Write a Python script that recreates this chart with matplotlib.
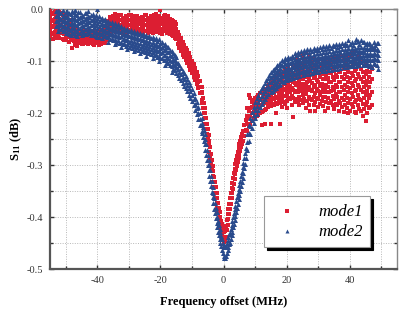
import matplotlib
matplotlib.use('Agg')
import matplotlib.pyplot as plt
from matplotlib.ticker import MultipleLocator

# mode1 (red squares), rows are (x, y values...)
mode1_left = [
	(-55, -0.003, -0.015, -0.028, -0.040, -0.052),
	(-54, -0.008, -0.020, -0.033, -0.045, -0.057),
	(-53, -0.001, -0.012, -0.025, -0.038, -0.050),
	(-52, -0.006, -0.018, -0.030, -0.043, -0.055),
	(-51, -0.010, -0.022, -0.034, -0.046, -0.058),
	(-50, -0.014, -0.026, -0.038, -0.049, -0.060),
	(-49, -0.020, -0.032, -0.043, -0.053, -0.063),
	(-48, -0.030, -0.040, -0.050, -0.060, -0.074),
	(-47, -0.038, -0.046, -0.054, -0.062, -0.068),
	(-46, -0.042, -0.050, -0.057, -0.064),
	(-45, -0.044, -0.051, -0.058, -0.066),
	(-44, -0.040, -0.048, -0.056, -0.063),
	(-43, -0.045, -0.053, -0.060, -0.067),
	(-42, -0.043, -0.050, -0.057, -0.064),
	(-41, -0.046, -0.054, -0.061, -0.068),
	(-40, -0.044, -0.052, -0.059, -0.065),
	(-39, -0.042, -0.050, -0.058, -0.066),
	(-38, -0.040, -0.048, -0.056, -0.063),
	(-37, -0.030, -0.040, -0.050, -0.060),
	(-36, -0.015, -0.025, -0.035, -0.045),
	(-35, -0.012, -0.022, -0.032, -0.042),
	(-34, -0.014, -0.024, -0.034, -0.044),
	(-33, -0.011, -0.021, -0.031, -0.041),
	(-32, -0.016, -0.026, -0.036, -0.045),
	(-31, -0.013, -0.023, -0.033, -0.043),
	(-30, -0.010, -0.020, -0.030, -0.040),
	(-29, -0.015, -0.025, -0.035, -0.044),
	(-28, -0.012, -0.022, -0.032, -0.042),
	(-27, -0.017, -0.027, -0.037, -0.046),
	(-26, -0.014, -0.024, -0.034, -0.043),
	(-25, -0.011, -0.021, -0.031, -0.041),
	(-24, -0.016, -0.026, -0.036, -0.045),
	(-23, -0.013, -0.023, -0.033, -0.043),
	(-22, -0.010, -0.020, -0.030, -0.040),
	(-21, -0.014, -0.024, -0.034, -0.044),
	(-20, -0.002, -0.018, -0.028, -0.038, -0.046),
	(-19, -0.012, -0.022, -0.032, -0.042),
	(-18, -0.015, -0.025, -0.035, -0.045),
	(-17, -0.018, -0.028, -0.038, -0.048),
	(-16, -0.022, -0.032, -0.042, -0.052),
	(-15, -0.028, -0.038, -0.048, -0.058),
]
mode1_left_half = [
	(-54.5, -0.009, -0.022, -0.034, -0.047),
	(-53.5, -0.005, -0.018, -0.031, -0.044, -0.056),
	(-52.5, -0.003, -0.014, -0.027, -0.040, -0.052),
	(-51.5, -0.008, -0.020, -0.032, -0.045),
	(-50.5, -0.012, -0.024, -0.036, -0.048, -0.059),
	(-49.5, -0.017, -0.029, -0.041, -0.052),
	(-48.5, -0.025, -0.036, -0.047, -0.058),
	(-47.5, -0.034, -0.043, -0.052, -0.061),
	(-46.5, -0.039, -0.047, -0.055, -0.063, -0.070),
	(-45.5, -0.046, -0.054, -0.062),
	(-44.5, -0.043, -0.051, -0.060, -0.067),
	(-43.5, -0.041, -0.049, -0.057, -0.064),
	(-42.5, -0.047, -0.055, -0.062),
	(-41.5, -0.042, -0.050, -0.058, -0.066),
	(-40.5, -0.047, -0.055, -0.062),
	(-39.5, -0.046, -0.054, -0.062, -0.069),
	(-38.5, -0.044, -0.052, -0.060),
	(-37.5, -0.036, -0.046, -0.056, -0.064),
	(-36.5, -0.022, -0.032, -0.042, -0.052),
	(-35.5, -0.018, -0.028, -0.038),
	(-34.5, -0.009, -0.019, -0.029, -0.039),
	(-33.5, -0.017, -0.027, -0.037),
	(-32.5, -0.011, -0.021, -0.031, -0.041),
	(-31.5, -0.018, -0.028, -0.038),
	(-30.5, -0.015, -0.025, -0.035, -0.046),
	(-29.5, -0.010, -0.020, -0.030, -0.040),
	(-28.5, -0.017, -0.027, -0.037),
	(-27.5, -0.012, -0.022, -0.032, -0.042),
	(-26.5, -0.019, -0.029, -0.039),
	(-25.5, -0.016, -0.026, -0.036, -0.046),
	(-24.5, -0.011, -0.021, -0.031, -0.041),
	(-23.5, -0.018, -0.028, -0.038),
	(-22.5, -0.015, -0.025, -0.035, -0.045),
	(-21.5, -0.009, -0.019, -0.029, -0.039),
	(-20.5, -0.013, -0.023, -0.033, -0.043),
	(-19.5, -0.017, -0.027, -0.037, -0.047),
	(-18.5, -0.010, -0.020, -0.030, -0.040),
	(-17.5, -0.013, -0.023, -0.033, -0.043),
	(-16.5, -0.020, -0.030, -0.040, -0.050),
	(-15.5, -0.025, -0.035, -0.045, -0.055),
]
mode1_fall = [
	(-14.5, -0.043, -0.055, -0.067), (-14, -0.050, -0.062, -0.074),
	(-13.5, -0.056, -0.068, -0.080), (-13, -0.063, -0.075, -0.087),
	(-12.5, -0.068, -0.080, -0.092), (-12, -0.074, -0.086, -0.098),
	(-11.5, -0.079, -0.091, -0.103), (-11, -0.085, -0.097, -0.109),
	(-10.5, -0.092, -0.104, -0.116), (-10, -0.099, -0.111, -0.123),
	(-9.5, -0.106, -0.118, -0.130), (-9, -0.113, -0.125, -0.137),
	(-8.5, -0.120, -0.132, -0.144), (-8, -0.128, -0.140, -0.152),
	(-7.5, -0.138, -0.150, -0.162), (-7, -0.150, -0.162, -0.174),
]
mode1_dip = [
	(-6.75, -0.160, -0.180), (-6.5, -0.170, -0.190), (-6.25, -0.180, -0.200),
	(-6, -0.190, -0.210), (-5.75, -0.200, -0.220), (-5.5, -0.210, -0.230),
	(-5.25, -0.220, -0.240), (-5, -0.230, -0.250), (-4.75, -0.242, -0.262),
	(-4.5, -0.254, -0.274), (-4.25, -0.266, -0.286), (-4, -0.278, -0.298),
	(-3.75, -0.290, -0.310), (-3.5, -0.301, -0.321), (-3.25, -0.312, -0.332),
	(-3, -0.323, -0.343), (-2.75, -0.333, -0.353), (-2.5, -0.343, -0.363),
	(-2.25, -0.353, -0.373), (-2, -0.363, -0.383), (-1.75, -0.373, -0.393),
	(-1.5, -0.382, -0.402), (-1.25, -0.391, -0.411), (-1, -0.399, -0.419),
	(-0.75, -0.407, -0.427), (-0.5, -0.414, -0.434), (-0.25, -0.420, -0.440),
	(0, -0.425, -0.445), (0.25, -0.428, -0.448), (0.5, -0.427, -0.447),
	(0.75, -0.418, -0.438), (1, -0.405, -0.425), (1.25, -0.395, -0.415),
	(1.5, -0.384, -0.404), (1.75, -0.374, -0.394), (2, -0.364, -0.384),
	(2.25, -0.354, -0.374), (2.5, -0.344, -0.364), (2.75, -0.334, -0.354),
	(3, -0.325, -0.345), (3.25, -0.316, -0.336), (3.5, -0.307, -0.327),
	(3.75, -0.298, -0.318), (4, -0.290, -0.310), (4.25, -0.282, -0.302),
	(4.5, -0.274, -0.294), (4.75, -0.267, -0.287), (5, -0.260, -0.280),
	(5.25, -0.253, -0.273), (5.5, -0.246, -0.266), (5.75, -0.240, -0.260),
	(6, -0.234, -0.254), (6.5, -0.223, -0.243), (7, -0.213, -0.233),
]
mode1_rise = [
	(7.5, -0.190, -0.205, -0.220, -0.235), (8, -0.165, -0.195, -0.210, -0.225),
	(8.5, -0.170, -0.190, -0.205, -0.220), (9, -0.178, -0.188, -0.200, -0.215),
	(9.5, -0.175, -0.185, -0.197, -0.210), (10, -0.170, -0.182, -0.195, -0.208),
	(10.5, -0.168, -0.180, -0.192, -0.205), (11, -0.165, -0.177, -0.190, -0.203),
	(11.5, -0.162, -0.175, -0.188, -0.200), (12, -0.160, -0.172, -0.185, -0.198, -0.222),
	(12.5, -0.158, -0.170, -0.183, -0.196), (13, -0.155, -0.168, -0.180, -0.193, -0.220),
	(13.5, -0.153, -0.166, -0.178, -0.191), (14, -0.150, -0.163, -0.176, -0.189),
	(14.5, -0.145, -0.158, -0.170, -0.183),
]
mode1_tail = [
	(15, -0.140, -0.152, -0.163, -0.174, -0.186, -0.220),
	(16, -0.138, -0.150, -0.161, -0.172, -0.184),
	(17, -0.135, -0.147, -0.158, -0.170, -0.182),
	(18, -0.125, -0.140, -0.155, -0.168, -0.180, -0.220),
	(19, -0.130, -0.143, -0.155, -0.167, -0.178),
	(20, -0.120, -0.135, -0.150, -0.163, -0.176, -0.190),
	(21, -0.118, -0.132, -0.147, -0.160, -0.173),
	(22, -0.108, -0.125, -0.140, -0.155, -0.170, -0.207),
	(23, -0.115, -0.130, -0.145, -0.158, -0.172),
	(24, -0.100, -0.120, -0.137, -0.152, -0.168, -0.185),
	(25, -0.090, -0.118, -0.135, -0.150, -0.165, -0.180),
	(26, -0.084, -0.112, -0.130, -0.148, -0.163, -0.190),
	(27, -0.088, -0.115, -0.133, -0.150, -0.168, -0.185),
	(28, -0.105, -0.125, -0.142, -0.158, -0.175),
	(29, -0.110, -0.128, -0.145, -0.162, -0.178, -0.195),
	(30, -0.100, -0.120, -0.140, -0.157, -0.172, -0.188),
	(31, -0.108, -0.125, -0.143, -0.160, -0.176),
	(32, -0.102, -0.118, -0.135, -0.152, -0.168, -0.195),
	(33, -0.095, -0.115, -0.132, -0.150, -0.170, -0.190),
	(34, -0.105, -0.122, -0.140, -0.158, -0.176),
	(35, -0.098, -0.118, -0.136, -0.155, -0.172, -0.192),
	(36, -0.090, -0.112, -0.130, -0.150, -0.168, -0.185),
	(37, -0.100, -0.120, -0.140, -0.160, -0.180),
	(38, -0.095, -0.115, -0.135, -0.155, -0.175, -0.198),
	(39, -0.088, -0.110, -0.130, -0.150, -0.170, -0.190),
	(40, -0.092, -0.112, -0.132, -0.152, -0.172, -0.195),
	(41, -0.085, -0.108, -0.128, -0.148, -0.168, -0.188),
	(42, -0.095, -0.115, -0.135, -0.155, -0.175, -0.200),
	(43, -0.090, -0.110, -0.130, -0.150, -0.172, -0.192),
	(44, -0.100, -0.120, -0.140, -0.160, -0.182, -0.205),
	(45, -0.105, -0.125, -0.145, -0.165, -0.185, -0.215),
	(46, -0.110, -0.130, -0.150, -0.170, -0.190),
	(47, -0.115, -0.135, -0.160, -0.185),
]
mode1_tail_half = [
	(15.5, -0.134, -0.146, -0.158, -0.170, -0.182),
	(16.5, -0.130, -0.143, -0.156, -0.168, -0.180, -0.200),
	(17.5, -0.122, -0.137, -0.150, -0.163, -0.176),
	(18.5, -0.126, -0.138, -0.150, -0.162, -0.175, -0.188),
	(19.5, -0.115, -0.128, -0.141, -0.154, -0.167, -0.182),
	(20.5, -0.112, -0.127, -0.142, -0.156, -0.170),
	(21.5, -0.105, -0.122, -0.138, -0.152, -0.166, -0.185),
	(22.5, -0.110, -0.126, -0.142, -0.160, -0.178),
	(23.5, -0.098, -0.112, -0.128, -0.143, -0.160, -0.176),
	(24.5, -0.105, -0.126, -0.143, -0.158, -0.174),
	(25.5, -0.095, -0.110, -0.128, -0.143, -0.158, -0.172),
	(26.5, -0.102, -0.122, -0.139, -0.156, -0.176),
	(27.5, -0.098, -0.118, -0.138, -0.156, -0.172, -0.195),
	(28.5, -0.095, -0.115, -0.133, -0.150, -0.168, -0.185),
	(29.5, -0.102, -0.120, -0.137, -0.154, -0.170),
	(30.5, -0.095, -0.112, -0.130, -0.148, -0.165, -0.182),
	(31.5, -0.100, -0.118, -0.135, -0.152, -0.168, -0.186),
	(32.5, -0.094, -0.110, -0.127, -0.145, -0.160, -0.178),
	(33.5, -0.100, -0.122, -0.140, -0.160, -0.180),
	(34.5, -0.092, -0.112, -0.131, -0.149, -0.167, -0.185),
	(35.5, -0.102, -0.126, -0.145, -0.163, -0.182),
	(36.5, -0.098, -0.121, -0.140, -0.159, -0.176, -0.195),
	(37.5, -0.090, -0.110, -0.130, -0.150, -0.170, -0.188),
	(38.5, -0.100, -0.125, -0.145, -0.165, -0.185),
	(39.5, -0.095, -0.120, -0.140, -0.160, -0.180, -0.200),
	(40.5, -0.088, -0.102, -0.122, -0.142, -0.162, -0.182),
	(41.5, -0.098, -0.118, -0.138, -0.158, -0.178, -0.198),
	(42.5, -0.090, -0.105, -0.125, -0.145, -0.165, -0.185),
	(43.5, -0.095, -0.115, -0.135, -0.155, -0.175, -0.195),
	(44.5, -0.110, -0.130, -0.150, -0.170, -0.192),
	(45.5, -0.100, -0.118, -0.138, -0.158, -0.178, -0.200),
	(46.5, -0.120, -0.140, -0.165, -0.188),
]

# mode2 (blue triangles)
mode2_left = [
	(-53, -0.003, -0.013, -0.023, -0.033),
	(-52, -0.006, -0.016, -0.026, -0.036),
	(-51, -0.002, -0.012, -0.022, -0.032, -0.042),
	(-50, -0.005, -0.015, -0.025, -0.035, -0.045),
	(-49, -0.008, -0.018, -0.028, -0.038, -0.048),
	(-48, -0.004, -0.014, -0.024, -0.034, -0.044),
	(-47, -0.002, -0.009, -0.019, -0.029, -0.039, -0.049),
	(-46, -0.006, -0.016, -0.026, -0.036, -0.046),
	(-45, -0.010, -0.020, -0.030, -0.040, -0.050),
	(-44, -0.008, -0.018, -0.028, -0.038, -0.048),
	(-43, -0.003, -0.012, -0.022, -0.032, -0.042),
	(-42, -0.010, -0.020, -0.030, -0.040, -0.050),
	(-41, -0.014, -0.024, -0.034, -0.044),
	(-40, 0.000, -0.016, -0.026, -0.036, -0.046, -0.054),
	(-39, -0.018, -0.028, -0.038, -0.048),
	(-38, -0.021, -0.031, -0.041, -0.051),
	(-37, -0.024, -0.034, -0.044, -0.054),
	(-36, -0.027, -0.037, -0.047, -0.057),
	(-35, -0.030, -0.040, -0.050, -0.060),
	(-34, -0.032, -0.042, -0.052, -0.062),
	(-33, -0.034, -0.044, -0.054, -0.064),
	(-32, -0.037, -0.047, -0.057, -0.067),
	(-31, -0.040, -0.050, -0.060, -0.070),
	(-30, -0.042, -0.052, -0.062, -0.072),
	(-29, -0.044, -0.054, -0.064, -0.074),
	(-28, -0.046, -0.056, -0.066, -0.076),
	(-27, -0.048, -0.058, -0.068, -0.078),
	(-26, -0.050, -0.060, -0.070, -0.080),
	(-25, -0.052, -0.062, -0.072, -0.082),
	(-24, -0.054, -0.064, -0.074, -0.084),
	(-23, -0.056, -0.066, -0.076, -0.086),
	(-22, -0.058, -0.068, -0.078, -0.088),
	(-21, -0.061, -0.071, -0.081, -0.091),
	(-20, -0.064, -0.074, -0.084, -0.094),
	(-19, -0.068, -0.078, -0.088, -0.098),
	(-18, -0.072, -0.082, -0.092, -0.102),
	(-17, -0.078, -0.088, -0.098, -0.108),
	(-16, -0.085, -0.095, -0.105, -0.115),
	(-15, -0.092, -0.102, -0.112, -0.122),
]
mode2_left_half = [
	(-52.5, -0.001, -0.011, -0.021, -0.031, -0.041),
	(-51.5, -0.008, -0.018, -0.028, -0.038),
	(-50.5, -0.010, -0.020, -0.030, -0.040),
	(-49.5, -0.003, -0.013, -0.023, -0.033, -0.043),
	(-48.5, -0.009, -0.019, -0.029, -0.039, -0.050),
	(-47.5, -0.006, -0.016, -0.026, -0.036, -0.046),
	(-46.5, -0.011, -0.021, -0.031, -0.041, -0.051),
	(-45.5, -0.005, -0.015, -0.025, -0.035, -0.045),
	(-44.5, -0.013, -0.023, -0.033, -0.043),
	(-43.5, -0.007, -0.017, -0.027, -0.037, -0.047),
	(-42.5, -0.015, -0.025, -0.035, -0.045),
	(-41.5, -0.009, -0.019, -0.029, -0.039, -0.049),
	(-40.5, -0.011, -0.021, -0.031, -0.041, -0.051),
	(-39.5, -0.013, -0.023, -0.033, -0.043, -0.053),
	(-38.5, -0.016, -0.026, -0.036, -0.046, -0.056),
	(-37.5, -0.019, -0.029, -0.039, -0.049),
	(-36.5, -0.022, -0.032, -0.042, -0.052, -0.062),
	(-35.5, -0.025, -0.035, -0.045, -0.055),
	(-34.5, -0.027, -0.037, -0.047, -0.057, -0.067),
	(-33.5, -0.029, -0.039, -0.049, -0.059),
	(-32.5, -0.032, -0.042, -0.052, -0.062, -0.072),
	(-31.5, -0.035, -0.045, -0.055, -0.065),
	(-30.5, -0.037, -0.047, -0.057, -0.067, -0.077),
	(-29.5, -0.039, -0.049, -0.059, -0.069),
	(-28.5, -0.041, -0.051, -0.061, -0.071, -0.081),
	(-27.5, -0.043, -0.053, -0.063, -0.073),
	(-26.5, -0.045, -0.055, -0.065, -0.075, -0.085),
	(-25.5, -0.047, -0.057, -0.067, -0.077),
	(-24.5, -0.049, -0.059, -0.069, -0.079, -0.089),
	(-23.5, -0.051, -0.061, -0.071, -0.081),
	(-22.5, -0.053, -0.063, -0.073, -0.083, -0.093),
	(-21.5, -0.055, -0.066, -0.076, -0.086),
	(-20.5, -0.058, -0.069, -0.079, -0.089, -0.099),
	(-19.5, -0.062, -0.073, -0.083, -0.093),
	(-18.5, -0.066, -0.077, -0.087, -0.097, -0.107),
	(-17.5, -0.073, -0.083, -0.093, -0.103),
	(-16.5, -0.080, -0.090, -0.100, -0.110, -0.120),
	(-15.5, -0.087, -0.097, -0.107, -0.117),
]
mode2_fall = [
	(-14.5, -0.103, -0.115, -0.127), (-14, -0.108, -0.120, -0.132),
	(-13.5, -0.113, -0.125, -0.137), (-13, -0.118, -0.130, -0.142),
	(-12.5, -0.123, -0.135, -0.147), (-12, -0.128, -0.140, -0.152),
	(-11.5, -0.134, -0.146, -0.158), (-11, -0.140, -0.152, -0.164),
	(-10.5, -0.146, -0.158, -0.170), (-10, -0.153, -0.165, -0.177),
	(-9.5, -0.161, -0.173, -0.185), (-9, -0.170, -0.182, -0.194),
	(-8.5, -0.178, -0.190, -0.202), (-8, -0.188, -0.200, -0.212),
	(-7.5, -0.199, -0.211, -0.223), (-7, -0.210, -0.222, -0.234),
]
mode2_dip = [
	(-6.75, -0.219, -0.239), (-6.5, -0.226, -0.246), (-6.25, -0.233, -0.253),
	(-6, -0.240, -0.260), (-5.75, -0.250, -0.270), (-5.5, -0.260, -0.280),
	(-5.25, -0.270, -0.290), (-5, -0.280, -0.300), (-4.75, -0.290, -0.310),
	(-4.5, -0.300, -0.320), (-4.25, -0.310, -0.330), (-4, -0.320, -0.340),
	(-3.75, -0.331, -0.351), (-3.5, -0.342, -0.362), (-3.25, -0.353, -0.373),
	(-3, -0.364, -0.384), (-2.75, -0.373, -0.393), (-2.5, -0.382, -0.402),
	(-2.25, -0.391, -0.411), (-2, -0.400, -0.420), (-1.75, -0.408, -0.428),
	(-1.5, -0.415, -0.435), (-1.25, -0.422, -0.442), (-1, -0.429, -0.449),
	(-0.75, -0.436, -0.456), (-0.5, -0.443, -0.463), (-0.25, -0.449, -0.469),
	(0, -0.454, -0.474), (0.25, -0.458, -0.478), (0.5, -0.458, -0.478),
	(0.75, -0.455, -0.475), (1, -0.450, -0.470), (1.25, -0.444, -0.464),
	(1.5, -0.438, -0.458), (1.75, -0.432, -0.452), (2, -0.430, -0.450),
	(2.25, -0.423, -0.443), (2.5, -0.415, -0.435), (2.75, -0.408, -0.428),
	(3, -0.400, -0.420), (3.25, -0.393, -0.413), (3.5, -0.385, -0.405),
	(3.75, -0.378, -0.398), (4, -0.370, -0.390), (4.25, -0.362, -0.382),
	(4.5, -0.354, -0.374), (4.75, -0.346, -0.366), (5, -0.338, -0.358),
	(5.25, -0.330, -0.350), (5.5, -0.321, -0.341), (5.75, -0.313, -0.333),
	(6, -0.304, -0.324), (6.25, -0.295, -0.315), (6.5, -0.286, -0.306),
	(6.75, -0.277, -0.297), (7, -0.267, -0.287),
]
mode2_rise = [
	(7.5, -0.241, -0.256, -0.271), (8, -0.223, -0.238, -0.253),
	(8.5, -0.210, -0.225, -0.240), (9, -0.198, -0.213, -0.228),
	(9.5, -0.188, -0.203, -0.218), (10, -0.179, -0.194, -0.209),
	(10.5, -0.171, -0.186, -0.201), (11, -0.164, -0.179, -0.194),
	(11.5, -0.158, -0.173, -0.188), (12, -0.152, -0.167, -0.182),
	(12.5, -0.147, -0.162, -0.177), (13, -0.142, -0.157, -0.172),
	(13.5, -0.137, -0.152, -0.167), (14, -0.133, -0.148, -0.163),
	(14.5, -0.126, -0.140, -0.154),
]
mode2_tail = [
	(15, -0.120, -0.130, -0.140, -0.150, -0.160),
	(16, -0.114, -0.124, -0.134, -0.144, -0.154),
	(17, -0.108, -0.118, -0.128, -0.138, -0.148),
	(18, -0.103, -0.113, -0.123, -0.133, -0.143),
	(19, -0.099, -0.109, -0.119, -0.129, -0.139),
	(20, -0.096, -0.106, -0.116, -0.126, -0.136),
	(21, -0.094, -0.104, -0.114, -0.124, -0.134),
	(22, -0.092, -0.102, -0.112, -0.122, -0.132),
	(23, -0.088, -0.100, -0.110, -0.120, -0.130),
	(24, -0.086, -0.098, -0.108, -0.118, -0.128),
	(25, -0.084, -0.096, -0.106, -0.116, -0.126),
	(26, -0.083, -0.095, -0.105, -0.115, -0.125),
	(27, -0.082, -0.094, -0.104, -0.114, -0.124),
	(28, -0.080, -0.092, -0.102, -0.112, -0.122),
	(29, -0.079, -0.091, -0.101, -0.111, -0.121),
	(30, -0.078, -0.090, -0.100, -0.110, -0.120),
	(31, -0.077, -0.089, -0.099, -0.109, -0.119),
	(32, -0.076, -0.088, -0.098, -0.108, -0.118),
	(33, -0.075, -0.087, -0.097, -0.107, -0.117),
	(34, -0.074, -0.086, -0.096, -0.106, -0.116),
	(35, -0.070, -0.085, -0.095, -0.105, -0.115),
	(36, -0.072, -0.084, -0.094, -0.104, -0.114),
	(37, -0.071, -0.083, -0.093, -0.103, -0.113),
	(38, -0.068, -0.082, -0.092, -0.102, -0.112),
	(39, -0.069, -0.081, -0.091, -0.101, -0.111),
	(40, -0.066, -0.080, -0.090, -0.100, -0.110),
	(41, -0.068, -0.080, -0.090, -0.100, -0.110),
	(42, -0.058, -0.079, -0.089, -0.099, -0.109),
	(43, -0.066, -0.078, -0.088, -0.098, -0.108),
	(44, -0.062, -0.078, -0.088, -0.098, -0.108),
	(45, -0.066, -0.077, -0.087, -0.097, -0.107),
	(46, -0.065, -0.077, -0.087, -0.097, -0.110),
	(47, -0.070, -0.077, -0.087, -0.097, -0.112),
	(48, -0.068, -0.076, -0.086, -0.096, -0.106),
	(49, -0.064, -0.078, -0.088, -0.098, -0.114),
]
mode2_tail_half = [
	(15.5, -0.117, -0.127, -0.137, -0.147, -0.157),
	(16.5, -0.111, -0.121, -0.131, -0.141, -0.151),
	(17.5, -0.105, -0.115, -0.125, -0.135, -0.145),
	(18.5, -0.098, -0.108, -0.118, -0.128, -0.138),
	(19.5, -0.094, -0.104, -0.114, -0.124, -0.134),
	(20.5, -0.091, -0.101, -0.111, -0.121, -0.131),
	(21.5, -0.089, -0.099, -0.109, -0.119, -0.129),
	(22.5, -0.084, -0.095, -0.105, -0.115, -0.125),
	(23.5, -0.082, -0.093, -0.103, -0.113, -0.123),
	(24.5, -0.080, -0.091, -0.101, -0.111, -0.121),
	(25.5, -0.078, -0.090, -0.100, -0.110, -0.120),
	(26.5, -0.077, -0.089, -0.099, -0.109, -0.119),
	(27.5, -0.076, -0.087, -0.097, -0.107, -0.117),
	(28.5, -0.075, -0.086, -0.096, -0.106, -0.116),
	(29.5, -0.074, -0.085, -0.095, -0.105, -0.115),
	(30.5, -0.072, -0.084, -0.094, -0.104, -0.114),
	(31.5, -0.071, -0.083, -0.093, -0.103, -0.113),
	(32.5, -0.070, -0.082, -0.092, -0.102, -0.112),
	(33.5, -0.069, -0.081, -0.091, -0.101, -0.111),
	(34.5, -0.068, -0.080, -0.090, -0.100, -0.110),
	(35.5, -0.067, -0.079, -0.089, -0.099, -0.109),
	(36.5, -0.066, -0.078, -0.088, -0.098, -0.108),
	(37.5, -0.065, -0.077, -0.087, -0.097, -0.107),
	(38.5, -0.064, -0.076, -0.086, -0.096, -0.106),
	(39.5, -0.060, -0.075, -0.085, -0.095, -0.105),
	(40.5, -0.063, -0.075, -0.085, -0.095, -0.105),
	(41.5, -0.062, -0.074, -0.084, -0.094, -0.104),
	(42.5, -0.061, -0.073, -0.083, -0.093, -0.103),
	(43.5, -0.060, -0.072, -0.082, -0.092, -0.102),
	(44.5, -0.063, -0.073, -0.083, -0.093, -0.103),
	(45.5, -0.064, -0.074, -0.084, -0.094, -0.104),
	(46.5, -0.066, -0.075, -0.085, -0.095, -0.105),
	(47.5, -0.062, -0.074, -0.084, -0.094, -0.104),
	(48.5, -0.064, -0.076, -0.086, -0.096, -0.108),
]

x_ticks = [-40, -20, 0, 20, 40]
y_ticks = [0.0, -0.1, -0.2, -0.3, -0.4, -0.5]

red = '#dc1e32'
blue = '#2a4b8d'


def unpack(*segments):
	"""Turn rows of (x, y1, y2, ...) into flat x and y lists"""
	xs, ys = [], []
	for seg in segments:
		for row in seg:
			for y in row[1:]:
				xs.append(row[0])
				ys.append(y)
	return xs, ys


m1_x, m1_y = unpack(mode1_left, mode1_left_half, mode1_fall, mode1_dip,
	mode1_rise, mode1_tail, mode1_tail_half)
m2_x, m2_y = unpack(mode2_left, mode2_left_half, mode2_fall, mode2_dip,
	mode2_rise, mode2_tail, mode2_tail_half)

plt.rcParams['font.family'] = ['Liberation Serif', 'DejaVu Serif']
plt.rcParams['mathtext.fontset'] = 'custom'
plt.rcParams['mathtext.rm'] = 'Liberation Serif'
plt.rcParams['mathtext.bf'] = 'Liberation Serif:bold'
plt.rcParams['axes.unicode_minus'] = False

fig = plt.figure(figsize=(3.99, 3.11), dpi=100)
ax = fig.add_axes([0.1253, 0.135, 0.8704, 0.835])

ax.scatter(m1_x, m1_y, marker='s', s=10, color=red, linewidths=0, label='mode1', zorder=3)
ax.scatter(m2_x, m2_y, marker='^', s=13, color=blue, linewidths=0, label='mode2', zorder=3)

ax.set_xlim(-55, 55)
ax.set_ylim(-0.5, 0.0)
ax.set_xticks(x_ticks)
ax.set_yticks(y_ticks)
ax.set_yticklabels(['%.1f' % v for v in y_ticks])
ax.xaxis.set_minor_locator(MultipleLocator(10))
ax.yaxis.set_minor_locator(MultipleLocator(0.05))
ax.grid(which='both', linestyle=(0, (1, 1.5)), color='#b8b8b8', linewidth=0.7, zorder=0)
ax.set_axisbelow(True)

ax.tick_params(which='both', direction='in', top=True, right=True,
	labelsize=7.5, colors='#333333', pad=5)
ax.tick_params(which='major', length=3, width=1)
ax.tick_params(which='minor', length=2, width=1)
for side in ['left', 'bottom']:
	ax.spines[side].set_linewidth(1.6)
	ax.spines[side].set_color('#555555')
for side in ['top', 'right']:
	ax.spines[side].set_linewidth(1.0)
	ax.spines[side].set_color('#888888')

ax.set_xlabel('Frequency offset (MHz)', fontsize=9, fontweight='bold', labelpad=8)
ax.set_ylabel(r'$\mathbf{S_{11}}$ (dB)', fontsize=9, fontweight='bold', labelpad=2)

leg = ax.legend(loc='upper left', bbox_to_anchor=(0.617, 0.281), borderaxespad=0,
	fancybox=False, shadow={'color': 'black', 'alpha': 1}, edgecolor='#999999',
	framealpha=1, prop={'family': 'Liberation Serif', 'style': 'italic', 'size': 12},
	markerscale=0.8, handletextpad=1.0, borderpad=0.45, labelspacing=0.25,
	handlelength=1.8)
leg.get_frame().set_linewidth(0.8)

fig.savefig('out.png', dpi=100)
